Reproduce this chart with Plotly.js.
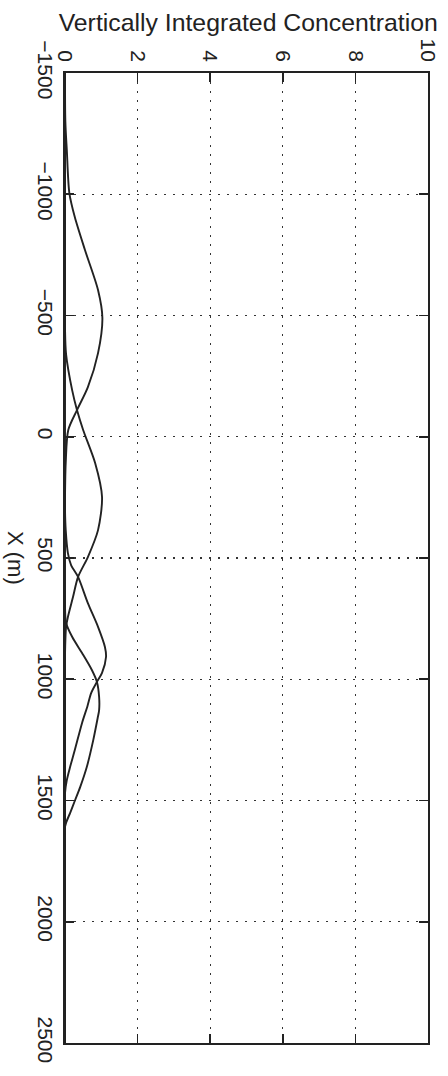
<!DOCTYPE html>
<html>
<head>
<meta charset="utf-8">
<script src="https://cdn.plot.ly/plotly-3.0.1.min.js"></script>
<style>html,body{margin:0;padding:0;background:#fff;}#chart{width:448px;height:1076px;}</style>
</head>
<body>
<div id="chart"></div>
<script>
// Distance along X (m) and vertically integrated concentration for four profiles
const xA = [-1500, -1300, -1182, -1005, -906, -770, -605, -490, -345, -205, -110, -28, 108, 250, 2500];
const cA = [0, 0.01, 0.05, 0.12, 0.27, 0.55, 0.91, 1.03, 0.91, 0.63, 0.33, 0.09, 0.02, 0, 0];

const xB = [-1500, -450, -340, -190, -110, -28, 108, 248, 385, 496, 578, 661, 743, 784, 900, 2500];
const cB = [0, 0, 0.03, 0.2, 0.33, 0.5, 0.83, 1.02, 0.91, 0.63, 0.36, 0.22, 0.08, 0.03, 0, 0];

const xC = [-1500, 300, 385, 480, 530, 578, 686, 784, 867, 908, 974, 1011, 1057, 1110, 1180, 1292, 1362, 1416, 1470, 2500];
const cC = [0, 0, 0.02, 0.08, 0.17, 0.36, 0.63, 0.91, 1.1, 1.13, 1.02, 0.88, 0.72, 0.62, 0.47, 0.27, 0.14, 0.05, 0, 0];

const xD = [-1500, 700, 768, 826, 892, 962, 1011, 1073, 1127, 1160, 1250, 1362, 1444, 1498, 1552, 1609, 2500];
const cD = [0, 0, 0.03, 0.2, 0.47, 0.74, 0.88, 0.94, 0.94, 0.9, 0.78, 0.6, 0.42, 0.28, 0.14, 0, 0];

const concTicks = [0, 2, 4, 6, 8, 10];
const distTicks = [-1500, -1000, -500, 0, 500, 1000, 1500, 2000, 2500];

const titleText = 'Vertically Integrated Concentration';
const distLabel = 'X (m)';

const ink = '#222';
const fam = 'Liberation Sans, Arial, sans-serif';
const lineStyle = {color: ink, width: 1.9, shape: 'spline', smoothing: 0.8};
function trace(x, c) {
  return {x: c, y: x, type: 'scatter', mode: 'lines', line: lineStyle, hoverinfo: 'skip', showlegend: false};
}
const data = [trace(xA, cA), trace(xB, cB), trace(xC, cC), trace(xD, cD)];

const axisCommon = {
  showline: true, mirror: 'ticks', linecolor: ink, linewidth: 1.8,
  ticks: 'inside', ticklen: 9, tickwidth: 1.6, tickcolor: ink,
  showgrid: true, gridcolor: '#333', gridwidth: 1.4, griddash: '1.5px,7.5px',
  zeroline: false, tickangle: 90,
  tickfont: {family: fam, size: 21, color: ink}
};

const layout = {
  width: 448, height: 1076,
  margin: {l: 65, r: 20, t: 73, b: 33},
  paper_bgcolor: '#fff', plot_bgcolor: '#fff',
  font: {family: fam, color: ink},
  title: {text: titleText, x: 0.554, xanchor: 'center', xref: 'container', y: 0.979, yanchor: 'middle', yref: 'container',
          font: {family: fam, size: 24.8, color: ink}},
  xaxis: Object.assign({}, axisCommon, {side: 'top', range: [0, 10], tickmode: 'array', tickvals: concTicks,
          ticktext: concTicks.map(String), ticklabelstandoff: 2}),
  yaxis: Object.assign({}, axisCommon, {range: [2500, -1500], tickmode: 'array', tickvals: distTicks,
          ticktext: distTicks.map(v => v < 0 ? '\u2212' + Math.abs(v) : String(v)), ticklabelstandoff: 0}),
  annotations: [{text: distLabel, xref: 'paper', yref: 'paper', x: -0.135, y: 0.5, xanchor: 'center', yanchor: 'middle',
                 textangle: 90, showarrow: false, font: {family: fam, size: 22, color: ink}}]
};

Plotly.newPlot('chart', data, layout, {staticPlot: true, displayModeBar: false});
</script>
</body>
</html>
